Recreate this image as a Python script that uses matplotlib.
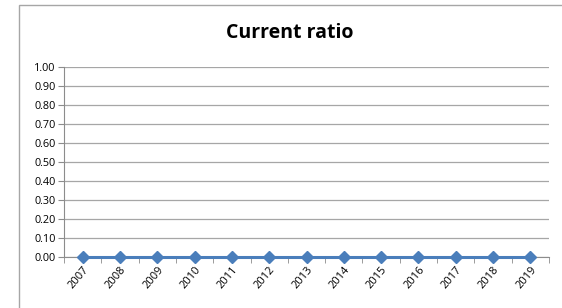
import numpy as np
import matplotlib.pyplot as plt
from matplotlib.patches import Rectangle

# Datos
years = ['2007', '2008', '2009', '2010', '2011', '2012', '2013',
         '2014', '2015', '2016', '2017', '2018', '2019']
current_ratio = [0.0, 0.0, 0.0, 0.0, 0.0, 0.0, 0.0, 0.0, 0.0, 0.0, 0.0, 0.0, 0.0]
y_ticks = [0.0, 0.1, 0.2, 0.3, 0.4, 0.5, 0.6, 0.7, 0.8, 0.9, 1.0]

plt.rcParams['font.family'] = ['Open Sans', 'DejaVu Sans']

fig = plt.figure(figsize=(5.62, 3.08), dpi=100)
# marco exterior del gráfico
fig.patches.append(Rectangle((19 / 562, -0.1), 1.2, 1 - 5 / 308 + 0.1,
                             transform=fig.transFigure, fill=False,
                             edgecolor='#a6a6a6', linewidth=1.0))

ax = fig.add_axes([64 / 562, 1 - 257 / 308, 485 / 562, 190 / 308])
x = np.arange(len(years))
ax.plot(x, current_ratio, color='#4a7ebb', linewidth=2.2, marker='D',
        markersize=6, markerfacecolor='#4a7ebb', markeredgecolor='#4a7ebb',
        clip_on=False, zorder=3)

ax.set_xlim(-0.5, len(years) - 0.5)
ax.set_ylim(0, 1.0)
ax.set_yticks(y_ticks)
ax.set_yticklabels([f'{v:.2f}' for v in y_ticks], fontsize=7.8)
ax.set_xticks(x)
ax.set_xticklabels(years, rotation=50, fontsize=8, ha='right',
                   rotation_mode='anchor')
ax.tick_params(axis='x', length=0, pad=5)
ax.set_xticks(np.arange(-0.5, len(years)), minor=True)
ax.tick_params(axis='x', which='minor', length=4, color='#8c8c8c', direction='out')
ax.tick_params(axis='y', length=4, color='#8c8c8c', direction='out', pad=2)

ax.grid(axis='y', color='#a6a6a6', linewidth=0.9)
ax.set_axisbelow(True)
for s in ['top', 'right']:
    ax.spines[s].set_visible(False)
ax.spines['left'].set_color('#8c8c8c')
ax.spines['bottom'].set_color('#8c8c8c')

fig.text(290 / 562, 1 - 33 / 308, 'Current ratio', ha='center', va='center',
         fontsize=14, fontweight='bold')

plt.savefig('out.png', dpi=100)
